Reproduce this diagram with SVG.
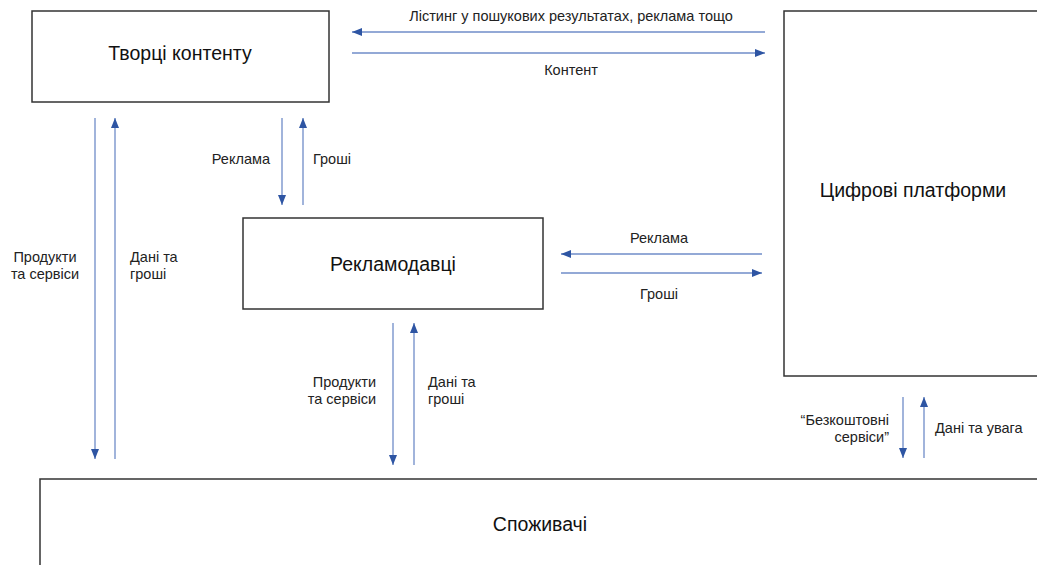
<svg xmlns="http://www.w3.org/2000/svg" width="1037" height="565" viewBox="0 0 1037 565">
  <style>
    .box { fill: #ffffff; stroke: #333333; stroke-width: 1.5; }
    .title { font-family: "Liberation Sans", Arial, sans-serif; font-size: 19.5px; fill: #111111; text-anchor: middle; }
    .lbl { font-family: "Liberation Sans", Arial, sans-serif; font-size: 14.5px; fill: #222222; }
    .mid { text-anchor: middle; }
    .end { text-anchor: end; }
    .flow { stroke: #6f8cc8; stroke-width: 1.3; fill: none; marker-end: url(#head); }
  </style>
  <defs>
    <marker id="head" viewBox="0 0 10 10" refX="10" refY="5" markerWidth="10" markerHeight="10" markerUnits="userSpaceOnUse" orient="auto">
      <path d="M0,1 L10,5 L0,9 Z" fill="#2e55a3"/>
    </marker>
  </defs>

  <rect width="1037" height="565" fill="#ffffff"/>

  <g id="creators">
    <rect class="box" x="32" y="11" width="297" height="91"/>
    <text class="title" x="180" y="60">Творці контенту</text>
  </g>

  <g id="platforms">
    <rect class="box" x="784" y="11" width="260" height="365"/>
    <text class="title" x="913" y="197">Цифрові платформи</text>
  </g>

  <g id="advertisers">
    <rect class="box" x="243" y="218" width="300" height="91"/>
    <text class="title" x="393" y="271">Рекламодавці</text>
  </g>

  <g id="consumers">
    <rect class="box" x="40" y="479" width="1010" height="100"/>
    <text class="title" x="540" y="531">Споживачі</text>
  </g>

  <g id="connectors">
    <!-- platforms <-> creators -->
    <line class="flow" x1="765" y1="32" x2="352" y2="32"/>
    <line class="flow" x1="352" y1="53" x2="765" y2="53"/>
    <text class="lbl mid" x="571" y="21">Лістинг у пошукових результатах, реклама тощо</text>
    <text class="lbl mid" x="571" y="75">Контент</text>

    <!-- creators <-> consumers -->
    <line class="flow" x1="95" y1="118" x2="95" y2="459"/>
    <line class="flow" x1="115" y1="459" x2="115" y2="118"/>
    <text class="lbl mid" x="45" y="262">Продукти</text>
    <text class="lbl mid" x="45" y="279">та сервіси</text>
    <text class="lbl" x="130" y="262">Дані та</text>
    <text class="lbl" x="130" y="279">гроші</text>

    <!-- creators <-> advertisers -->
    <line class="flow" x1="282" y1="118" x2="282" y2="205"/>
    <line class="flow" x1="303" y1="205" x2="303" y2="118"/>
    <text class="lbl end" x="270" y="164">Реклама</text>
    <text class="lbl" x="313" y="164">Гроші</text>

    <!-- platforms <-> advertisers -->
    <line class="flow" x1="762" y1="254" x2="561" y2="254"/>
    <line class="flow" x1="561" y1="273" x2="762" y2="273"/>
    <text class="lbl mid" x="659" y="243">Реклама</text>
    <text class="lbl mid" x="659" y="299">Гроші</text>

    <!-- advertisers <-> consumers -->
    <line class="flow" x1="393" y1="323" x2="393" y2="465"/>
    <line class="flow" x1="414" y1="465" x2="414" y2="323"/>
    <text class="lbl end" x="376" y="387">Продукти</text>
    <text class="lbl end" x="376" y="404">та сервіси</text>
    <text class="lbl" x="428" y="387">Дані та</text>
    <text class="lbl" x="428" y="404">гроші</text>

    <!-- platforms <-> consumers -->
    <line class="flow" x1="903" y1="397" x2="903" y2="458"/>
    <line class="flow" x1="924" y1="458" x2="924" y2="397"/>
    <text class="lbl end" x="889" y="425">“Безкоштовні</text>
    <text class="lbl end" x="889" y="442">сервіси”</text>
    <text class="lbl" x="935" y="433">Дані та увага</text>
  </g>
</svg>
